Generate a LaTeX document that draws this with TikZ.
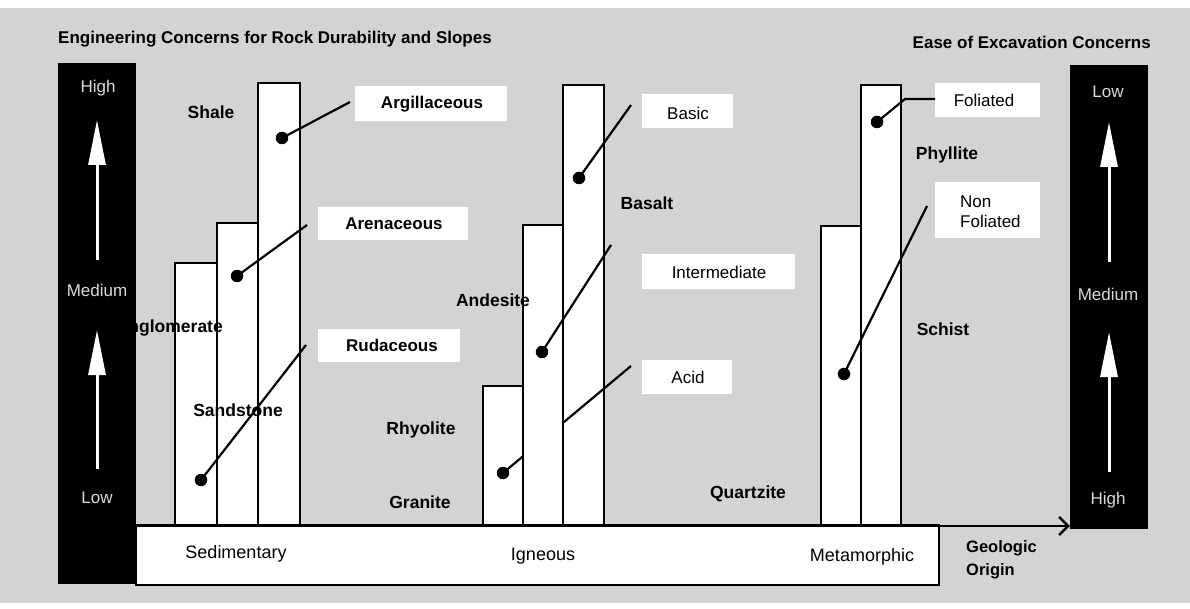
\documentclass[tikz,border=0pt]{standalone}
\usepackage{fontspec}
\setmainfont{Liberation Sans}
\usetikzlibrary{arrows.meta}
\definecolor{bggray}{HTML}{D3D3D3}
\definecolor{bartext}{HTML}{DADADA}
\tikzset{
  txt/.style={font=\fontsize{17}{20}\selectfont, inner sep=0pt},
  basetxt/.style={font=\fontsize{18}{20}\selectfont, inner sep=0pt},
  rock/.style={font=\bfseries\fontsize{17.5}{20}\selectfont, inner sep=0pt},
  boxbold/.style={font=\bfseries\fontsize{17}{20}\selectfont, inner sep=0pt},
  ttl/.style={font=\bfseries\fontsize{17}{20}\selectfont, inner sep=0pt},
  lblbox/.style={fill=white, inner sep=0pt},
  barrect/.style={draw=black, line width=1.2pt, fill=white},
  blackbar/.style={fill=black, draw=none, inner sep=0pt},
  bartxt/.style={txt, text=bartext},
  dotnode/.style={circle, fill=black, inner sep=0pt, minimum size=12.5pt},
  conn/.style={line width=2.2pt},
  whitearrow/.style={draw=white, line width=3pt, -{Triangle[length=45pt,width=17pt]}},
  axisline/.style={line width=2.4pt, -{Straight Barb[length=9pt,width=18pt,line width=2.4pt]}}
}
\begin{document}
\begin{tikzpicture}[x=1pt,y=-1pt]
\useasboundingbox (0,0) rectangle (1190,609);
\fill[white] (0,0) rectangle (1190,609);
\fill[bggray] (0,8) rectangle (1190,603);

% titles
\node[ttl, anchor=west] (t1) at (58,39) {Engineering Concerns for Rock Durability and Slopes};
\node[ttl, anchor=east] (t2) at (1151,42) {Ease of Excavation Concerns};

% base white rectangle
\draw[barrect] (136,525) rectangle (939,585);
\node[basetxt] (sed) at (236,554) {Sedimentary};
\node[basetxt] (ign) at (543,556) {Igneous};
\node[basetxt] (met) at (862,557) {Metamorphic};

% sedimentary bars
\draw[barrect] (175,263) rectangle (217,525);
\draw[barrect] (217,223) rectangle (258,525);
\draw[barrect] (258,83) rectangle (300,525);

% igneous bars
\draw[barrect] (483,386) rectangle (523,525);
\draw[barrect] (563,85) rectangle (604,525);

% acid connector (behind middle igneous bar)
\node[dotnode] (dAcid) at (503,473) {};
\coordinate (eAcid) at (631,366);
\draw[conn] (dAcid.center) -- (eAcid);

\draw[barrect] (523,225) rectangle (563,525);

% metamorphic bars
\draw[barrect] (821,226) rectangle (861,525);
\draw[barrect] (861,85) rectangle (901,525);

% label boxes
\node[lblbox, minimum width=152pt, minimum height=35pt] (arg) at (431,104) {};
\node[boxbold] at (432,104) {Argillaceous};
\node[lblbox, minimum width=150pt, minimum height=33pt] (are) at (393,224) {};
\node[boxbold] at (394,224) {Arenaceous};
\node[lblbox, minimum width=142pt, minimum height=33pt] (rud) at (389,345) {};
\node[boxbold] at (392,345) {Rudaceous};

\node[lblbox, minimum width=91pt, minimum height=34pt] (bas) at (687,111) {};
\node[txt] at (688,113) {Basic};
\node[lblbox, minimum width=153pt, minimum height=35pt] (int) at (718,272) {};
\node[txt] at (719,272) {Intermediate};
\node[lblbox, minimum width=90pt, minimum height=34pt] (aci) at (687,377) {};
\node[txt] at (688,377) {Acid};

\node[lblbox, minimum width=105pt, minimum height=34pt] (fol) at (987,100) {};
\node[txt] at (984,100) {Foliated};
\node[lblbox, minimum width=105pt, minimum height=56pt] (nfol) at (987,210) {};
\node[txt, align=left, anchor=west] at (960,212) {Non\\Foliated};

% connectors with dots
\node[dotnode] (dArg) at (282,138) {};
\coordinate (eArg) at (350,102);
\draw[conn] (dArg.center) -- (eArg);

\node[dotnode] (dAre) at (237,276) {};
\coordinate (eAre) at (307,225);
\draw[conn] (dAre.center) -- (eAre);

\node[dotnode] (dRud) at (201,480) {};
\coordinate (eRud) at (306,345);
\draw[conn] (dRud.center) -- (eRud);

\node[dotnode] (dBas) at (579,178) {};
\coordinate (eBas) at (631,105);
\draw[conn] (dBas.center) -- (eBas);

\node[dotnode] (dInt) at (542,352) {};
\coordinate (eInt) at (611,245);
\draw[conn] (dInt.center) -- (eInt);

\node[dotnode] (dFol) at (877,122) {};
\coordinate (kFol) at (905,99);
\coordinate (eFol) at (935,99);
\draw[conn] (dFol.center) -- (kFol) -- (eFol);

\node[dotnode] (dNf) at (844,374) {};
\coordinate (eNf) at (927,206);
\draw[conn] (dNf.center) -- (eNf);

% rock names
\node[rock] (shale) at (211,112) {Shale};
\node[rock, anchor=east] (cong) at (223,328) {Conglomerate};
\node[rock] (sand) at (238,410) {Sandstone};
\node[rock] (basalt) at (647,203) {Basalt};
\node[rock] (andes) at (493,300) {Andesite};
\node[rock] (rhyo) at (421,430) {Rhyolite};
\node[rock] (gran) at (420,502) {Granite};
\node[rock] (quartz) at (748,494) {Quartzite};
\node[rock] (phyl) at (947,155) {Phyllite};
\node[rock] (schist) at (943,329) {Schist};

% black scale bars
\node[blackbar, minimum width=78pt, minimum height=521pt] (lbar) at (97,323.5) {};
\node[blackbar, minimum width=78pt, minimum height=464pt] (rbar) at (1109,297) {};

\node[bartxt] at (98,88) {High};
\node[bartxt] at (97,290) {Medium};
\node[bartxt] at (97,498) {Low};
\node[bartxt] at (1108,92) {Low};
\node[bartxt] at (1108,294) {Medium};
\node[bartxt] at (1108,500) {High};

\coordinate (la1) at (97,260); \coordinate (la1t) at (97,120);
\coordinate (la2) at (97,469); \coordinate (la2t) at (97,330);
\coordinate (ra1) at (1109,262); \coordinate (ra1t) at (1109,122);
\coordinate (ra2) at (1109,472); \coordinate (ra2t) at (1109,332);
\draw[whitearrow] (la1) -- (la1t);
\draw[whitearrow] (la2) -- (la2t);
\draw[whitearrow] (ra1) -- (ra1t);
\draw[whitearrow] (ra2) -- (ra2t);

% geologic origin axis
\coordinate (axL) at (136,526);
\draw[axisline] (axL) -- (rbar.west |- axL);
\node[ttl, align=left, anchor=west, font=\bfseries\fontsize{16.5}{23}\selectfont] (geo) at (966,560) {Geologic\\Origin};
\end{tikzpicture}
\end{document}
